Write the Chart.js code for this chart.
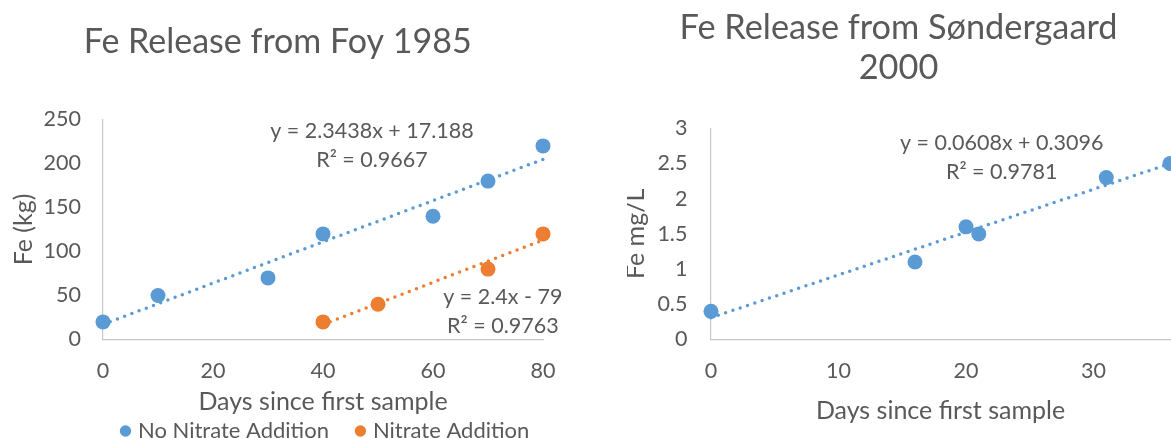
<!DOCTYPE html>
<html>
<head>
<meta charset="utf-8">
<script src="https://cdn.jsdelivr.net/npm/chart.js@4.4.1/dist/chart.umd.min.js"></script>
<style>
  html, body { margin: 0; padding: 0; background: #fff; width: 1171px; height: 438px; overflow: hidden; }
  canvas { position: absolute; top: 0; }
  #foy { left: -4px; }
  #sond { left: 627px; }
</style>
</head>
<body>
<canvas id="foy" width="590" height="452"></canvas>
<canvas id="sond" width="553" height="423"></canvas>
<script>
// Foy 1985
const foyDays = [0, 10, 30, 40, 60, 70, 80];
const foyNoNitrate = [20, 50, 70, 120, 140, 180, 220];
const foyNitrateDays = [40, 50, 70, 80];
const foyNitrate = [20, 40, 80, 120];
const foyXTicks = [0, 20, 40, 60, 80];
const foyYTicks = [0, 50, 100, 150, 200, 250];

// Søndergaard 2000
const sondDays = [0, 16, 20, 21, 31, 36];
const sondFe = [0.4, 1.1, 1.6, 1.5, 2.3, 2.5];
const sondXTicks = [0, 10, 20, 30];
const sondYTicks = [0, 0.5, 1, 1.5, 2, 2.5, 3];

// trendline equations as printed on the chart
const noNitrateFit = { slope: 2.3438, intercept: 17.188 };
const nitrateFit = { slope: 2.4, intercept: -79 };
const sondFit = { slope: 0.0608, intercept: 0.3096 };
const noNitrateEqn = ['y = 2.3438x + 17.188', 'R² = 0.9667'];
const nitrateEqn = ['y = 2.4x - 79', 'R² = 0.9763'];
const sondEqn = ['y = 0.0608x + 0.3096', 'R² = 0.9781'];

const BLUE = '#5B9BD5';
const ORANGE = '#ED7D31';
const TEXT = '#595959';
const AXIS = '#C8C8C8';
const FONT = 'Lato';

const pts = (xs, ys) => xs.map((x, i) => ({ x: x, y: ys[i] }));
const fitLine = (fit, xs) => {
  const lo = Math.min(...xs), hi = Math.max(...xs);
  return [{ x: lo, y: fit.slope * lo + fit.intercept }, { x: hi, y: fit.slope * hi + fit.intercept }];
};

function scatterSet(label, data, color) {
  return {
    label: label, data: data,
    backgroundColor: color, borderColor: color, borderWidth: 0,
    pointRadius: 7.5, pointHoverRadius: 7.5, clip: false
  };
}

function trendSet(data, color) {
  return {
    label: 'trend', data: data, isTrend: true,
    showLine: true, pointRadius: 0, borderColor: color, borderWidth: 3.5,
    borderDash: [0, 7.7], borderCapStyle: 'round', fill: false, clip: false
  };
}

function xAxis(tickVals, max, height, titlePadBottom) {
  return {
    type: 'linear', min: 0, max: max,
    afterBuildTicks: s => { s.ticks = tickVals.map(v => ({ value: v })); },
    afterFit: s => { s.height = height; },
    grid: { display: false, drawTicks: false },
    border: { display: true, color: AXIS, width: 1.2 },
    ticks: { color: TEXT, font: { family: FONT, size: 21.5, lineHeight: 1.2 }, padding: 18.3, maxRotation: 0, autoSkip: false, callback: v => String(v) },
    title: { display: true, text: 'Days since first sample', color: TEXT, font: { family: FONT, size: 25, lineHeight: 1 }, padding: { top: 0, bottom: titlePadBottom } }
  };
}

function yAxis(tickVals, max, width, titleText, titlePadTop, tickPad) {
  return {
    type: 'linear', min: 0, max: max,
    afterBuildTicks: s => { s.ticks = tickVals.map(v => ({ value: v })); },
    afterFit: s => { s.width = width; },
    grid: { display: false, drawTicks: false },
    border: { display: true, color: AXIS, width: 1.2 },
    ticks: { color: TEXT, font: { family: FONT, size: 21.5, lineHeight: 1.2 }, padding: tickPad, autoSkip: false, callback: v => String(v) },
    title: { display: true, text: titleText, color: TEXT, font: { family: FONT, size: 25, lineHeight: 1 }, padding: { top: titlePadTop, bottom: 0 } }
  };
}

// writes the trendline equation boxes, anchored in data units
const eqnPlugin = {
  id: 'eqn',
  afterDatasetsDraw(chart, args, opts) {
    const { ctx, scales } = chart;
    ctx.save();
    ctx.font = '21.5px ' + FONT;
    ctx.fillStyle = TEXT;
    ctx.textAlign = 'center';
    ctx.textBaseline = 'middle';
    (opts.boxes || []).forEach(b => {
      const px = scales.x.getPixelForValue(b.at[0]);
      const py = scales.y.getPixelForValue(b.at[1]);
      b.lines.forEach((t, i) => {
        ctx.fillText(t, px, py + (i - (b.lines.length - 1) / 2) * 29);
      });
    });
    ctx.restore();
  }
};

new Chart(document.getElementById('foy'), {
  type: 'scatter',
  data: {
    datasets: [
      scatterSet('No Nitrate Addition', pts(foyDays, foyNoNitrate), BLUE),
      scatterSet('Nitrate Addition', pts(foyNitrateDays, foyNitrate), ORANGE),
      trendSet(fitLine(noNitrateFit, foyDays), BLUE),
      trendSet(fitLine(nitrateFit, foyNitrateDays), ORANGE)
    ]
  },
  options: {
    responsive: false, animation: false, events: [],
    layout: { padding: { left: 0, right: 26.7, top: 0, bottom: 0 } },
    scales: {
      x: xAxis(foyXTicks, 80, 50.5, -24.2),
      y: yAxis(foyYTicks, 250, 107, 'Fe (kg)', 15.9, 22),
      // empty spacer on the right so the legend row ends where the original does
      spacer: {
        type: 'linear', position: 'right', display: true,
        grid: { display: false, drawTicks: false }, border: { display: false },
        ticks: { display: false }, afterFit: s => { s.width = 16.3; }
      }
    },
    plugins: {
      title: { display: true, text: 'Fe Release from Foy 1985', color: TEXT, font: { family: FONT, size: 34, weight: 'normal', lineHeight: 1.185 }, padding: { top: 21.55, bottom: 57.65 } },
      legend: {
        position: 'bottom', align: 'end',
        labels: {
          color: TEXT, font: { family: FONT, size: 22 }, usePointStyle: true, boxWidth: 3, boxHeight: 8, padding: 30,
          filter: (item, data) => !data.datasets[item.datasetIndex].isTrend
        }
      },
      tooltip: { enabled: false },
      eqn: { boxes: [ { at: [48.9, 220.5], lines: noNitrateEqn }, { at: [72.7, 31.6], lines: nitrateEqn } ] }
    }
  },
  plugins: [eqnPlugin]
});

new Chart(document.getElementById('sond'), {
  type: 'scatter',
  data: {
    datasets: [
      scatterSet('Fe', pts(sondDays, sondFe), BLUE),
      trendSet(fitLine(sondFit, sondDays), BLUE)
    ]
  },
  options: {
    responsive: false, animation: false, events: [],
    layout: { padding: { left: 0, right: 10, top: 0, bottom: 0 } },
    scales: {
      x: xAxis(sondXTicks, 36, 83.5, 0),
      y: yAxis(sondYTicks, 3, 84, 'Fe mg/L', -3.1, 23.6)
    },
    plugins: {
      title: { display: true, text: ['Fe Release from Søndergaard', '2000'], color: TEXT, font: { family: FONT, size: 34.3, weight: 'normal', lineHeight: 1.175 }, padding: { top: 7.55, bottom: 40.15 } },
      legend: { display: false },
      tooltip: { enabled: false },
      eqn: { boxes: [ { at: [22.8, 2.58], lines: sondEqn } ] }
    }
  },
  plugins: [eqnPlugin]
});
</script>
</body>
</html>
